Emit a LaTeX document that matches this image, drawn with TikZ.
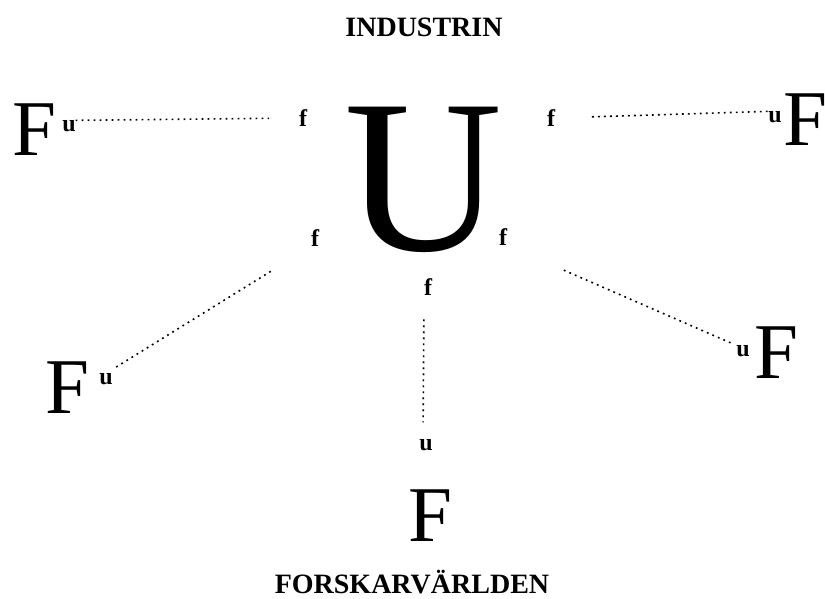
\documentclass[tikz,border=0pt]{standalone}
\usepackage{fontspec}
\setmainfont{Liberation Serif}
\usepackage{tikz}

\begin{document}
\begin{tikzpicture}[x=1pt,y=-1pt,
  every node/.style={inner sep=0pt,outer sep=0pt},
  bigf/.style={font=\fontsize{79}{79}\selectfont},
  bigu/.style={font=\fontsize{219}{219}\selectfont},
  lbl/.style={font=\bfseries\fontsize{24}{24}\selectfont},
  title/.style={font=\bfseries\fontsize{28}{28}\selectfont},
  dotline/.style={line width=1.6pt,dash pattern=on 1.8pt off 4.2pt}]
  \useasboundingbox (0,0) rectangle (825,599);
  \node[title] (ind) at (424,27) {INDUSTRIN};
  \node[title,anchor=base] (fors) at (412,593) {FORSKARVÄRLDEN};
  \node[bigu] (uu) at (424,180) {U};
  \node[lbl] (ftl) at (303,118) {f};
  \node[lbl] (ftr) at (551,118) {f};
  \node[lbl] (fml) at (315,238) {f};
  \node[lbl] (fmr) at (503,237) {f};
  \node[lbl] (fb) at (428,287) {f};
  \node[bigf] (Ftl) at (34,130) {F};
  \node[lbl] (utl) at (69,126) {u};
  \node[bigf] (Ftr) at (805,120) {F};
  \node[lbl] (utr) at (775,117) {u};
  \node[bigf] (Fml) at (67,388) {F};
  \node[lbl] (uml) at (106,379) {u};
  \node[bigf] (Fmr) at (776,353) {F};
  \node[lbl] (umr) at (743,351) {u};
  \node[bigf] (Fb) at (430,516) {F};
  \node[lbl] (ub) at (426,445) {u};
  \path[dotline]
    (utl.north east) edge[shorten >=30pt] (ftl.west)
    (ftr.east) edge[shorten <=37pt] (utr.north west)
    (uml.north) edge[shorten <=12pt,shorten >=47pt] (fml.south west)
    (fmr.south east) edge[shorten <=62pt,shorten >=3pt] (umr.north west)
    ([xshift=-4pt]fb.south) edge[shorten <=24pt,shorten >=17pt] ([xshift=-3pt]ub.north);
\end{tikzpicture}
\end{document}
